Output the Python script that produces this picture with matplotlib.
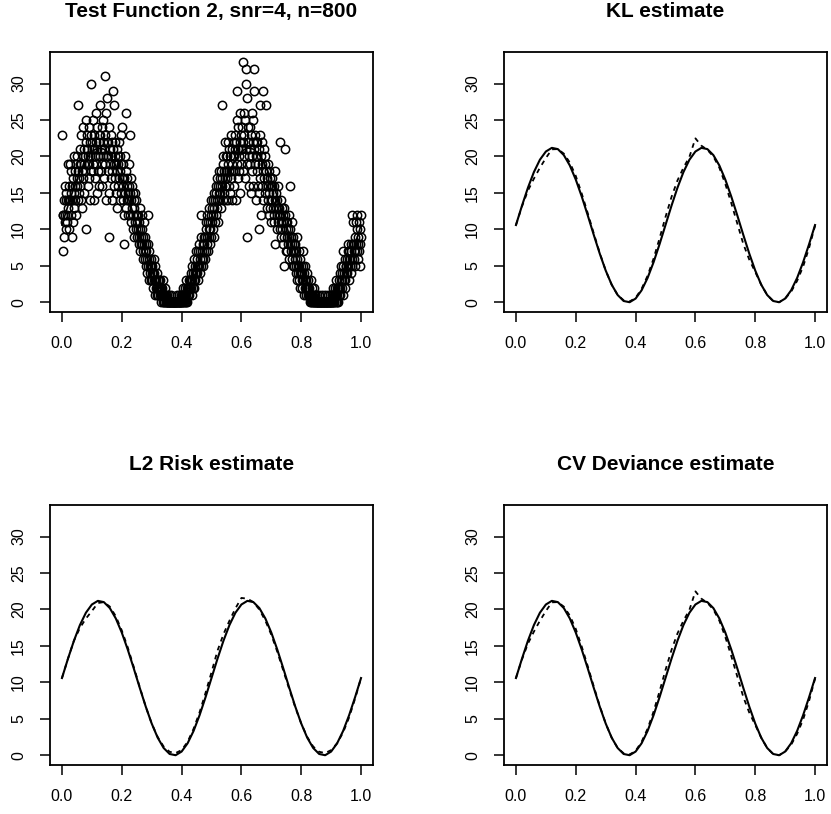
import numpy as np
import matplotlib
matplotlib.use('Agg')
import matplotlib.pyplot as plt

plt.rcParams['font.family'] = ['Liberation Sans', 'DejaVu Sans']

# observed counts, n=800, one row per 0.025 wide slice of [0,1]
counts = [
    [23, 12, 7, 12, 14, 9, 11, 16, 12, 14, 10, 15, 12, 11, 14, 19, 13, 16, 10, 14],
    [14, 19, 12, 18, 15, 16, 9, 14, 17, 11, 20, 15, 13, 16, 18, 14, 19, 12, 16, 17],
    [20, 14, 18, 27, 17, 15, 19, 21, 16, 14, 23, 19, 18, 13, 20, 17, 24, 15, 21, 19],
    [20, 18, 22, 10, 25, 19, 21, 23, 16, 20, 17, 24, 19, 22, 14, 20, 23, 30, 18, 21],
    [22, 19, 25, 18, 21, 14, 23, 20, 17, 26, 22, 19, 15, 24, 21, 20, 18, 23, 16, 22],
    [20, 23, 27, 18, 21, 16, 24, 19, 22, 20, 25, 17, 21, 31, 23, 19, 26, 14, 20, 22],
    [28, 22, 18, 20, 9, 24, 15, 21, 19, 23, 20, 17, 22, 18, 14, 21, 29, 27, 19, 16],
    [20, 17, 22, 19, 15, 21, 18, 13, 20, 16, 19, 22, 17, 14, 18, 20, 15, 19, 23, 17],
    [24, 16, 19, 14, 8, 17, 12, 15, 20, 18, 26, 13, 16, 14, 17, 12, 15, 19, 14, 16],
    [23, 15, 12, 17, 14, 11, 16, 13, 10, 15, 12, 14, 9, 13, 11, 15, 12, 10, 14, 12],
    [11, 9, 12, 10, 8, 11, 9, 13, 7, 10, 8, 9, 12, 8, 10, 7, 9, 6, 11, 8],
    [7, 9, 6, 8, 5, 7, 4, 6, 8, 5, 12, 7, 3, 6, 5, 4, 6, 3, 5, 4],
    [5, 3, 4, 2, 6, 3, 4, 1, 3, 5, 2, 3, 2, 4, 1, 3, 2, 1, 3, 2],
    [2, 1, 3, 1, 2, 0, 1, 2, 0, 1, 3, 0, 1, 0, 2, 1, 0, 1, 0, 0],
    [0, 1, 0, 0, 0, 1, 0, 0, 0, 0, 0, 1, 0, 0, 0, 0, 0, 0, 0, 0],
    [0, 0, 0, 0, 0, 0, 1, 0, 0, 0, 0, 0, 0, 1, 0, 0, 0, 1, 0, 0],
    [0, 1, 0, 2, 1, 0, 1, 0, 2, 1, 0, 3, 1, 2, 0, 1, 2, 1, 3, 2],
    [1, 3, 2, 4, 2, 3, 1, 5, 3, 2, 4, 3, 6, 2, 4, 5, 3, 4, 7, 5],
    [4, 6, 5, 7, 3, 5, 8, 6, 4, 7, 12, 5, 9, 6, 7, 5, 8, 6, 9, 7],
    [8, 6, 9, 11, 7, 10, 8, 12, 9, 7, 11, 10, 9, 13, 8, 11, 10, 12, 9, 14],
    [11, 13, 10, 14, 12, 9, 15, 13, 11, 14, 16, 12, 15, 13, 17, 14, 11, 16, 18, 15],
    [14, 17, 16, 15, 18, 13, 17, 16, 27, 19, 14, 20, 18, 15, 17, 16, 22, 14, 18, 20],
    [17, 20, 14, 19, 22, 16, 18, 21, 15, 20, 18, 17, 23, 19, 14, 21, 18, 20, 16, 22],
    [20, 23, 18, 21, 14, 22, 19, 25, 29, 17, 21, 24, 20, 18, 26, 22, 15, 21, 19, 23],
    [21, 24, 22, 33, 18, 26, 20, 23, 17, 25, 32, 21, 30, 9, 28, 19, 24, 22, 16, 20],
    [22, 19, 24, 21, 15, 23, 20, 26, 18, 22, 25, 16, 32, 21, 29, 19, 23, 14, 20, 22],
    [20, 18, 22, 16, 19, 10, 21, 15, 27, 23, 17, 20, 12, 19, 22, 16, 29, 18, 14, 21],
    [17, 19, 15, 20, 27, 16, 18, 13, 17, 14, 19, 16, 12, 18, 15, 17, 13, 16, 11, 14],
    [16, 14, 17, 13, 15, 12, 16, 11, 8, 14, 18, 13, 15, 10, 14, 12, 16, 11, 13, 12],
    [13, 10, 22, 12, 14, 9, 11, 13, 10, 12, 8, 11, 5, 13, 9, 12, 21, 10, 7, 11],
    [9, 11, 7, 10, 8, 12, 9, 6, 16, 10, 8, 7, 9, 11, 6, 8, 5, 9, 7, 8],
    [7, 5, 8, 6, 4, 7, 5, 9, 3, 6, 4, 5, 7, 3, 5, 6, 4, 2, 5, 4],
    [3, 4, 2, 5, 3, 7, 1, 4, 2, 3, 5, 1, 2, 3, 4, 2, 1, 3, 2, 1],
    [1, 2, 0, 1, 3, 0, 1, 2, 0, 1, 0, 1, 2, 0, 0, 1, 0, 1, 0, 0],
    [0, 0, 1, 0, 0, 0, 0, 1, 0, 0, 0, 0, 0, 0, 1, 0, 0, 0, 0, 0],
    [0, 0, 0, 1, 0, 0, 0, 0, 0, 0, 1, 0, 0, 0, 0, 0, 0, 1, 0, 0],
    [0, 1, 0, 0, 2, 1, 0, 1, 0, 2, 1, 0, 1, 3, 0, 2, 1, 2, 0, 1],
    [2, 3, 1, 4, 2, 3, 5, 2, 4, 3, 7, 1, 5, 3, 4, 2, 6, 3, 5, 4],
    [5, 6, 4, 7, 5, 8, 6, 3, 7, 5, 6, 8, 4, 7, 6, 5, 12, 11, 8, 7],
    [6, 8, 7, 9, 5, 11, 8, 7, 12, 10, 6, 9, 8, 11, 7, 5, 10, 8, 12, 9],
]
y_obs = np.concatenate(counts)
x_obs = np.arange(1, len(y_obs) + 1) / len(y_obs)   # equispaced design points

# curves read at x = 0, 0.02, ..., 1
x_grid = np.linspace(0, 1, 51)
true_f = [10.60, 13.24, 15.71, 17.86, 19.55, 20.68, 21.18, 21.01, 20.19, 18.77,
          16.83, 14.50, 11.93, 9.27, 6.70, 4.37, 2.43, 1.01, 0.19, 0.02,
          0.52, 1.65, 3.34, 5.49, 7.96, 10.60, 13.24, 15.71, 17.86, 19.55,
          20.68, 21.18, 21.01, 20.19, 18.77, 16.83, 14.50, 11.93, 9.27, 6.70,
          4.37, 2.43, 1.01, 0.19, 0.02, 0.52, 1.65, 3.34, 5.49, 7.96, 10.60]
kl_est = [10.60, 13.14, 15.31, 16.96, 18.45, 19.78, 20.98, 21.01, 20.39, 19.17,
          17.33, 14.90, 12.23, 9.47, 6.80, 4.37, 2.43, 1.01, 0.29, 0.12,
          0.62, 1.85, 3.64, 5.99, 8.76, 11.70, 14.44, 16.71, 18.46, 19.95,
          22.48, 21.48, 20.91, 19.99, 18.47, 16.23, 13.60, 10.82, 8.03, 5.87,
          4.17, 2.43, 1.01, 0.19, 0.02, 0.52, 1.45, 2.94, 4.89, 7.46, 10.50]
l2_est = [10.60, 13.24, 15.71, 17.46, 18.75, 19.78, 20.88, 21.01, 20.39, 19.07,
          17.13, 14.80, 12.13, 9.37, 6.70, 4.37, 2.53, 1.21, 0.49, 0.32,
          0.72, 1.85, 3.64, 5.89, 8.56, 11.40, 14.34, 16.61, 18.46, 20.15,
          21.58, 21.48, 21.01, 19.99, 18.47, 16.53, 14.20, 11.63, 9.07, 6.60,
          4.37, 2.53, 1.21, 0.49, 0.32, 0.72, 1.65, 3.14, 5.19, 7.76, 10.60]
cv_est = [10.60, 13.14, 15.31, 16.96, 18.45, 19.78, 20.98, 21.01, 20.39, 19.17,
          17.33, 14.90, 12.23, 9.47, 6.80, 4.37, 2.43, 1.01, 0.29, 0.12,
          0.62, 1.85, 3.64, 5.99, 8.76, 11.70, 14.44, 16.71, 18.46, 19.95,
          22.48, 21.48, 20.91, 19.99, 18.47, 16.23, 13.60, 10.82, 8.03, 5.87,
          4.17, 2.43, 1.01, 0.19, 0.02, 0.52, 1.45, 2.94, 4.89, 7.46, 10.50]

titles = ['Test Function 2, snr=4, n=800', 'KL estimate',
          'L2 Risk estimate', 'CV Deviance estimate']
xticks = [0.0, 0.2, 0.4, 0.6, 0.8, 1.0]
yticks = [0, 5, 10, 15, 20, 25, 30]

W, H = 831, 814
fig = plt.figure(figsize=(W/100, H/100), dpi=100)

# panel boxes in pixels: left, top
boxes = [(50, 52), (504, 52), (50, 505), (504, 505)]
bw, bh = 323, 260

axes = []
for (l, t), title in zip(boxes, titles):
    ax = fig.add_axes([l/W, 1 - (t + bh)/H, bw/W, bh/H])
    ax.set_xlim(-0.04, 1.04)
    ax.set_ylim(-1.32, 34.32)
    ax.set_xticks(xticks)
    ax.set_xticklabels(['%.1f' % v for v in xticks])
    ax.set_yticks(yticks)
    ax.set_yticklabels([str(v) for v in yticks], rotation=90, va='center')
    ax.tick_params(direction='out', length=7.2, width=1.1, labelsize=11.5,
                   color='black', labelcolor='black')
    ax.tick_params(axis='x', pad=10)
    ax.tick_params(axis='y', pad=10)
    for s in ax.spines.values():
        s.set_linewidth(1.3)
        s.set_color('black')
    ax.text(0.5, 1 + 35/bh, title, transform=ax.transAxes, ha='center',
            va='baseline', fontsize=15, fontweight='bold')
    axes.append(ax)

dash = (0, (2.6, 2.6))

ax = axes[0]
ax.plot(x_obs, y_obs, 'o', mfc='none', mec='black', ms=6.0, mew=1.1)
ax.plot(x_grid, true_f, color='black', lw=1.2)

for ax, est in zip(axes[1:], [kl_est, l2_est, cv_est]):
    ax.plot(x_grid, true_f, color='black', lw=1.5)
    ax.plot(x_grid, est, color='black', lw=1.3, linestyle=dash)

fig.savefig('out.png', dpi=100)
